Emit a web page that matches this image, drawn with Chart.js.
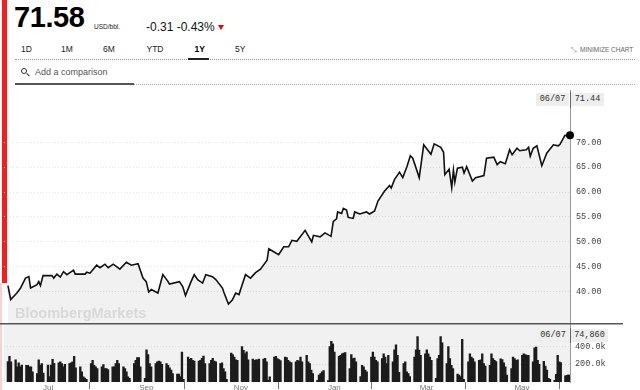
<!DOCTYPE html>
<html>
<head>
<meta charset="utf-8">
<script src="https://cdn.jsdelivr.net/npm/chart.js@4.4.1/dist/chart.umd.min.js"></script>
<style>
  body { margin: 0; width: 640px; height: 390px; overflow: hidden; background: #fff; position: relative;
         font-family: "Liberation Sans", Arial, sans-serif; }
  .t { position: absolute; white-space: nowrap; line-height: 1; }
  .mono { font-family: "Liberation Mono", monospace; }
  #wrap { position: absolute; left: 0; top: 86px; width: 640px; height: 320px; }
  .box { position: absolute; background: #eee; color: #333; font-size: 8.5px; line-height: 13px; height: 13px; text-align: center; }
</style>
</head>
<body>
<!-- page accent -->
<div class="t" style="left:2px;top:0;width:5px;height:283px;background:#ff1a1a"></div>
<div class="t" style="left:0;top:283px;width:2px;height:107px;background:#fbd0d0"></div>

<!-- header -->
<div class="t" style="left:14px;top:3px;font-size:29px;font-weight:bold;color:#000;letter-spacing:-0.4px">71.58</div>
<div class="t" style="left:94px;top:23.5px;font-size:6.5px;color:#222">USD/bbl.</div>
<div class="t" style="left:146px;top:21px;font-size:12px;color:#111">-0.31 -0.43%</div>
<div class="t" style="left:218px;top:25px;width:0;height:0;border-left:3px solid transparent;border-right:3px solid transparent;border-top:5px solid #e00"></div>

<div class="t" style="left:21px;top:45px;font-size:8.5px;color:#222">1D</div>
<div class="t" style="left:61px;top:45px;font-size:8.5px;color:#222">1M</div>
<div class="t" style="left:103px;top:45px;font-size:8.5px;color:#222">6M</div>
<div class="t" style="left:146.5px;top:45px;font-size:8.5px;color:#222">YTD</div>
<div class="t" style="left:194.5px;top:45px;font-size:8.5px;color:#000;font-weight:bold">1Y</div>
<div class="t" style="left:235px;top:45px;font-size:8.5px;color:#222">5Y</div>
<div class="t" style="left:15px;top:59px;width:620px;border-top:1px dotted #999"></div>
<div class="t" style="left:188px;top:58px;width:21px;height:2px;background:#222"></div>
<div class="t" style="left:571px;top:46px;font-size:7px;color:#888">&#x2921;</div>
<div class="t" style="left:580px;top:47px;font-size:6.5px;color:#666">MINIMIZE CHART</div>

<div class="t" style="left:21px;top:68px;width:4px;height:4px;border:1.3px solid #333;border-radius:50%"></div>
<div class="t" style="left:26px;top:73.5px;width:3.5px;height:1.3px;background:#333;transform:rotate(45deg)"></div>
<div class="t" style="left:35px;top:67.5px;font-size:9px;color:#555">Add a comparison</div>
<div class="t" style="left:134px;top:83.5px;width:501px;border-top:1px dotted #aaa"></div>
<div class="t" style="left:15px;top:83px;width:119px;height:1.5px;background:#555"></div>

<div id="wrap"><canvas id="chart" width="640" height="320"></canvas></div>

<!-- watermark and crosshair labels -->
<div class="t" style="left:15px;top:306px;font-size:14.5px;font-weight:bold;color:#d8d8d8">BloombergMarkets</div>
<div class="box mono" style="left:536px;top:93px;width:33px">06/07</div>
<div class="box mono" style="left:571px;top:93px;width:33px">71.44</div>
<div class="t" style="left:569.5px;top:92px;width:1px;height:16px;background:#666"></div>
<div class="box mono" style="left:537px;top:329px;width:32px">06/07</div>
<div class="box mono" style="left:571px;top:329px;width:37px">74,860</div>
<div class="t" style="left:569.5px;top:328px;width:1px;height:15px;background:#666"></div>

<script>
// x positions are days since 06/07/2017
const monthLabels = ['Jul', 'Sep', 'Nov', 'Jan', 'Mar', 'May'];
const monthDays = [21.5, 83.9, 145.3, 206.5, 266.1, 327.6];
const priceTicks = [40, 45, 50, 55, 60, 65, 70];
const volTicks = [200000, 400000];

const priceDays = [
  0, 1.8, 5.8, 8.2, 11.4, 13.6, 14.7, 18.9, 20.0, 21.1, 22.8, 28.6, 29.7, 31.8, 34.0, 36.1, 38.3,
  42.6, 43.7, 50.1, 51.2, 53.3, 57.6, 59.8, 63.0, 65.1, 68.4, 72.7, 76.9, 80.2, 84.5, 87.7, 89.8,
  91.4, 93.1, 97.4, 100.6, 103.8, 104.9, 111.4, 113.5, 115.3, 118.9, 121.0, 123.2, 126.4, 128.5,
  132.8, 135.0, 139.3, 140.4, 143.2, 145.7, 147.9, 150.1, 151.1, 154.3, 157.5, 160.8, 164.0,
  168.3, 169.4, 171.5, 175.8, 179.1, 182.3, 184.4, 187.6, 193.0, 197.3, 198.4, 202.7, 205.9,
  209.8, 211.3, 213.4, 214.1, 216.7, 217.8, 219.9, 221.0, 224.2, 225.2, 228.5, 232.8, 234.9,
  238.1, 240.3, 244.6, 247.8, 248.9, 251.0, 254.3, 256.4, 259.2, 261.3, 262.9, 267.1, 270.0,
  274.7, 276.8, 281.1, 282.9, 283.7, 286.5, 288.2, 289.3, 290.2, 291.9, 295.1, 296.2, 297.9,
  301.6, 303.7, 309.1, 310.8, 315.5, 317.7, 319.8, 323.0, 325.8, 327.4, 330.6, 332.3, 336.6,
  338.1, 339.2, 341.1, 343.5, 346.7, 349.9, 354.2, 357.4, 358.5, 361.7, 363.3, 365
];
const prices = [
  41.2, 38.4, 39.7, 40.7, 42.7, 43.0, 40.7, 41.4, 42.0, 41.2, 43.2, 43.2, 42.7, 43.5, 42.9, 44.0, 43.4,
  44.3, 43.5, 43.5, 43.9, 43.7, 45.3, 44.8, 45.5, 44.8, 45.5, 44.5, 45.9, 45.3, 45.6, 42.7, 42.0,
  39.9, 40.4, 39.7, 43.4, 42.1, 41.5, 42.0, 41.0, 39.2, 42.0, 43.4, 42.4, 41.7, 43.4,
  43.0, 42.4, 40.7, 39.7, 37.5, 38.3, 39.7, 39.4, 40.4, 43.4, 42.7, 43.8, 44.5,
  46.3, 48.6, 48.2, 47.4, 49.0, 49.0, 50.3, 50.1, 52.3, 50.0, 51.3, 51.0, 51.8,
  51.1, 54.1, 54.6, 56.0, 55.7, 56.7, 56.4, 54.9, 54.7, 56.0, 55.6, 56.0, 55.6,
  56.2, 58.2, 60.2, 61.3, 60.8, 62.5, 64.0, 62.9, 65.2, 67.3, 66.8, 62.9, 69.5,
  67.6, 69.7, 69.0, 68.0, 63.5, 64.6, 60.9, 64.4, 62.0, 64.8, 65.0, 63.8, 65.1,
  62.2, 62.9, 63.3, 66.8, 67.0, 65.5, 66.1, 65.7, 68.5, 67.5, 68.8, 68.3, 68.5,
  69.0, 67.2, 68.8, 69.3, 65.3, 67.8, 69.5, 69.3, 69.6, 71.4, 71.3, 71.44
];

// volume in thousands, Mon..Fri, week 0 starts Mon 06/05/2017
const volWeeks = [
  [null, null, 230, 289, 226], [251, 170, 215, 170, 190], [189, 189, 170, 170, 115], [96, 251, 189, 207, 100],
  [190, 60, 190, 255, 210], [215, 226, 207, 170, 200], [207, 215, 226, 289, 160], [170, 115, 59, 45, 30],
  [207, 244, 189, 170, 150], [170, 196, 150, 150, 140], [170, 170, 207, 244, 207], [170, 150, 115, 59, 40],
  [207, 244, 274, 274, 170], [40, 363, 310, 207, 170], [207, 226, 237, 226, 200], [207, 189, 160, 133, 96],
  [89, 89, 60, 337, 30], [281, 255, 266, 244, 237], [237, 244, 266, 292, 207], [207, 244, 266, 237, 226],
  [207, 215, 150, 115, 30], [325, 310, 281, 251, 244], [400, 356, 318, 340, 251], [259, 244, 251, 251, 259],
  [259, 266, 226, 20, 59], [281, 289, 263, 252, 240], [281, 274, 244, 226, 220], [226, 244, 237, 281, 226],
  [300, 226, 207, 133, 96], [20, 78, 96, 115, 130], [15, 400, 459, 430, 337], [290, 300, 318, 326, 330],
  [152, 310, 263, 270, 226], [60, 189, 170, 133, 115], [281, 337, 281, 244, 226], [263, 318, 281, 207, 300],
  [226, 363, 418, 300, 110], [207, 226, 115, 96, 60], [281, 363, 511, 360, 300], [318, 363, 318, 281, 244],
  [40, 263, 300, 511, 440], [207, 400, 263, 189, 150], [89, 78, 60, 480, 30], [226, 318, 281, 263, 226],
  [244, 250, 318, 207, 180], [189, 318, 263, 244, 230], [260, 252, 215, 170, 78], [152, 281, 263, 244, 250],
  [300, 318, 310, 300, 300], [226, 385, 392, 244, 200], [233, 180, 133, 41, 30], [20, 85, 300, 226, 218],
  [70, 75, 80, 75, null]
];

const volData = [];
volWeeks.forEach((week, k) => {
  week.forEach((v, j) => {
    if (v !== null) volData.push({ x: -2 + 7 * k + j, y: v * 1000 });
  });
});

const panels = {
  id: 'panels',
  beforeDraw(chart) {
    const { ctx, chartArea, scales } = chart;
    const v = scales.v;
    ctx.save();
    ctx.fillStyle = '#f1f1f1';
    ctx.fillRect(chartArea.left, v.top, chartArea.right - chartArea.left, v.bottom - v.top);
    ctx.restore();
  },
  afterDraw(chart) {
    const { ctx, scales } = chart;
    ctx.save();
    ctx.strokeStyle = '#555';
    ctx.lineWidth = 1.5;
    ctx.beginPath();
    ctx.moveTo(0, scales.y.bottom);
    ctx.lineTo(623, scales.y.bottom);
    ctx.stroke();
    ctx.restore();
  }
};

// no extra room for edge labels, so the panes keep their exact size
const noPad = s => { s.paddingTop = 0; s.paddingBottom = 0; s.paddingLeft = 0; s.paddingRight = 0; };

Chart.defaults.font.family = "'Liberation Sans', Arial, sans-serif";

const ctx = document.getElementById('chart').getContext('2d');
new Chart(ctx, {
  type: 'line',
  data: {
    datasets: [
      {
        type: 'line',
        data: priceDays.map((d, i) => ({ x: d, y: prices[i] })),
        yAxisID: 'y',
        borderColor: '#111',
        borderWidth: 1.6,
        fill: 'start',
        backgroundColor: 'rgba(0,0,0,0.055)',
        tension: 0,
        clip: false,
        pointRadius: c => (c.dataIndex === prices.length - 1 ? 4 : 0),
        pointBackgroundColor: '#000',
        pointBorderWidth: 0
      },
      {
        type: 'bar',
        data: volData,
        yAxisID: 'v',
        backgroundColor: '#1c1c1c',
        borderWidth: 0,
        barThickness: 1.7
      }
    ]
  },
  options: {
    responsive: false,
    animation: false,
    layout: { padding: 0 },
    plugins: { legend: { display: false }, tooltip: { enabled: false } },
    scales: {
      x: {
        type: 'linear',
        min: -2.55,
        max: 365,
        offset: false,
        afterBuildTicks: s => { s.ticks = monthDays.map(v => ({ value: v })); },
        afterFit: s => { s.height = 24; noPad(s); },
        grid: { drawOnChartArea: false, drawTicks: true, tickLength: 7, color: '#777' },
        border: { display: false },
        ticks: {
          autoSkip: false, maxRotation: 0, align: 'start', labelOffset: 2, padding: -6,
          color: '#777', font: { size: 8 },
          callback: (v, i) => monthLabels[i]
        }
      },
      y: {
        position: 'right',
        stack: 'panes',
        stackWeight: 237,
        min: 33.52,
        max: 80.51,
        afterBuildTicks: s => { s.ticks = priceTicks.map(v => ({ value: v })); },
        afterFit: s => { s.width = 70; noPad(s); },
        grid: { color: '#e6e6e6', drawTicks: false },
        border: { display: true, color: '#999', dash: [1, 2] },
        ticks: {
          padding: 6, color: '#444',
          font: { family: "'Liberation Mono', monospace", size: 8.5 },
          callback: v => v.toFixed(2)
        }
      },
      v: {
        position: 'right',
        stack: 'panes',
        stackWeight: 59,
        min: 0,
        max: 655600,
        afterBuildTicks: s => { s.ticks = volTicks.map(v => ({ value: v })); },
        afterFit: s => { s.width = 70; noPad(s); },
        grid: { color: '#dcdcdc', drawTicks: false },
        border: { display: true, color: '#999', dash: [1, 2] },
        ticks: {
          padding: 5, color: '#444',
          font: { family: "'Liberation Mono', monospace", size: 8.5 },
          callback: v => (v / 1000).toFixed(1) + 'k'
        }
      }
    }
  },
  plugins: [panels]
});
</script>
</body>
</html>
